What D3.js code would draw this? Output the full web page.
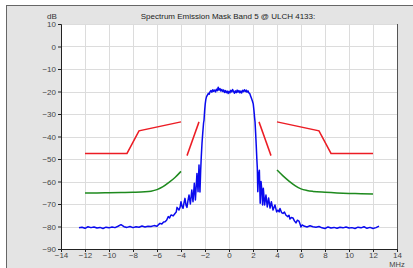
<!DOCTYPE html>
<html>
<head>
<meta charset="utf-8">
<script src="https://cdn.jsdelivr.net/npm/d3@7"></script>
<style>
  body { margin: 0; background: #fff; }
  svg { display: block; font-family: "Liberation Sans", Arial, sans-serif; }
</style>
</head>
<body>
<div id="chart"></div>
<script>
// chart values
const xTicks = [-14, -12, -10, -8, -6, -4, -2, 0, 2, 4, 6, 8, 10, 12, 14];
const yTicks = [10, 0, -10, -20, -30, -40, -50, -60, -70, -80, -90];

// measured spectrum (MHz offset, dB)
const specFreq = [-12.5,-12.25,-12,-11.75,-11.5,-11.25,-11,-10.75,-10.5,-10.25,-10,-9.75,-9.5,-9.25,-9,-8.75,-8.5,-8.25,-8,-7.75,-7.5,-7.25,-7,-6.75,-6.5,-6.25,-6,
  -5.9,-5.75,-5.6,-5.45,-5.33,-5.2,-5.06,-4.95,-4.85,-4.78,-4.65,-4.5,-4.4,-4.33,-4.17,-4.08,-4,-3.92,-3.83,-3.75,-3.67,-3.58,-3.5,-3.42,-3.33,-3.22,-3.1,-3,-2.89,-2.8,-2.67,-2.58,-2.5,-2.42,-2.36,-2.31,-2.25,-2.19,-2.12,-2.08,-2.03,-1.98,-1.93,-1.87,-1.8,-1.72,-1.65,-1.58,-1.5,-1.43,-1.35,-1.28,-1.2,-1.12,-1.05,-0.97,-0.9,-0.83,-0.75,-0.68,-0.6,-0.52,-0.45,-0.37,-0.3,-0.22,-0.15,-0.07,0,
  0.08,0.15,0.23,0.3,0.38,0.45,0.53,0.6,0.68,0.75,0.83,0.9,0.98,1.05,1.13,1.2,1.28,1.35,1.43,1.5,1.58,1.65,1.72,1.8,1.87,1.95,2.02,2.08,2.13,2.17,2.22,2.27,2.32,2.36,2.4,2.46,2.53,2.6,2.67,2.74,2.8,2.86,2.97,3.08,3.19,3.3,3.42,3.53,3.67,3.83,3.97,4.08,4.18,4.25,4.38,4.5,4.62,4.75,4.9,5,5.08,5.2,5.33,5.45,5.58,5.7,5.83,5.92,6,6.1,
  6.25,6.5,6.75,7,7.25,7.5,7.75,8,8.25,8.5,8.75,9,9.25,9.5,9.75,10,10.25,10.5,10.75,11,11.25,11.5,11.75,12,12.25,12.5];
const specLevel = [-80.6,-80.3,-80.8,-80.1,-80.5,-80.2,-80.7,-80.4,-80.9,-80.3,-80.6,-80.2,-80.5,-79.9,-79.2,-80.1,-80.4,-80.0,-80.5,-80.1,-80.3,-79.8,-80.2,-79.9,-80.0,-79.6,-79.9,
  -79.3,-78.6,-78.9,-78.0,-77.9,-77.2,-75.6,-76.2,-75.0,-74.9,-75.3,-74.2,-73.6,-71.5,-72.7,-71.5,-69.0,-71.0,-71.9,-69.5,-67.5,-70.5,-71.5,-68.5,-66.0,-70.0,-63.8,-69.0,-60.8,-68.2,-56.4,-64.5,-52.7,-64.7,-55.0,-49.0,-43.0,-38.6,-34.0,-32.7,-28.5,-25.5,-23.5,-22.3,-21.6,-20.8,-21.2,-20.1,-19.6,-20.3,-19.2,-19.9,-19.4,-20.2,-19.0,-19.6,-18.1,-19.4,-18.7,-19.8,-19.1,-20.0,-19.3,-20.4,-19.6,-20.5,-19.8,-20.9,-19.9,
  -20.6,-19.5,-20.2,-19.1,-20.0,-20.8,-19.7,-20.5,-19.4,-20.3,-19.6,-20.6,-19.8,-20.7,-19.5,-20.1,-19.2,-20.0,-19.4,-20.3,-19.7,-20.6,-20.8,-22.0,-23.0,-24.2,-25.5,-28.5,-31.5,-33.5,-38.5,-44.0,-50.0,-54.0,-64.5,-57.0,-55.0,-69.7,-60.0,-64.0,-70.4,-63.0,-70.4,-66.0,-71.3,-67.3,-71.8,-69.0,-72.7,-70.4,-73.5,-72.7,-73.5,-72.0,-73.8,-74.2,-73.6,-75.0,-75.6,-75.0,-76.7,-76.0,-76.2,-77.5,-78.4,-77.2,-77.6,-78.9,-80.2,-79.3,
  -79.8,-80.2,-79.7,-80.1,-80.3,-80.0,-80.6,-80.9,-80.2,-80.7,-80.4,-80.8,-80.3,-80.6,-80.2,-80.7,-80.5,-80.9,-80.3,-80.6,-80.1,-80.8,-80.4,-80.9,-80.5,-79.8];

// emission mask limits (red)
const maskOuterLeftF = [-12, -8.5, -7.5, -4];
const maskOuterLeftL = [-47.5, -47.5, -37.5, -33.5];
const maskInnerLeftF = [-3.5, -2.5];
const maskInnerLeftL = [-48.5, -33.5];
const maskInnerRightF = [2.5, 3.5];
const maskInnerRightL = [-33.5, -48.5];
const maskOuterRightF = [4, 7.5, 8.5, 12];
const maskOuterRightL = [-33.5, -37.5, -47.5, -47.5];

// margin curves (green)
const marginLeftF = [-12, -11, -10, -9, -8, -7, -6.5, -6, -5.5, -5, -4.5, -4];
const marginLeftL = [-65.1, -65.1, -65.0, -64.9, -64.8, -64.6, -64.3, -63.6, -62.3, -60.4, -58.2, -55.5];
const marginRightF = [4, 4.5, 5, 5.5, 6, 6.5, 7, 8, 9, 10, 11, 12];
const marginRightL = [-54.9, -57.5, -59.8, -61.8, -63.3, -64.0, -64.4, -64.8, -65.1, -65.3, -65.4, -65.6];

const W = 413, H = 268;
const margin = {top: 24, right: 16, bottom: 19, left: 61},
    width = W - margin.left - margin.right,
    height = H - margin.top - margin.bottom;

const svg = d3.select("#chart")
  .append("svg")
    .attr("width", W)
    .attr("height", H);

// outer panel
svg.append("rect")
  .attr("x", 6.5).attr("y", 5.5)
  .attr("width", W + 10).attr("height", H + 10)
  .attr("fill", "#e4e4e4")
  .attr("stroke", "#666");

const g = svg.append("g")
  .attr("transform", `translate(${margin.left},${margin.top})`);

const x = d3.scaleLinear().domain([-14, 14]).range([0, width]);
const y = d3.scaleLinear().domain([-90, 10]).range([height, 0]);

g.append("rect")
  .attr("width", width).attr("height", height)
  .attr("fill", "#fff");

// grid
g.append("g").selectAll("line")
  .data(xTicks.slice(1, -1))
  .join("line")
    .attr("x1", d => Math.round(x(d)) + 0.5).attr("x2", d => Math.round(x(d)) + 0.5)
    .attr("y1", 0).attr("y2", height)
    .attr("stroke", "#dcdcdc");
g.append("g").selectAll("line")
  .data(yTicks.slice(0, -1))
  .join("line")
    .attr("y1", d => Math.round(y(d)) + 0.5).attr("y2", d => Math.round(y(d)) + 0.5)
    .attr("x1", 0).attr("x2", width)
    .attr("stroke", "#dcdcdc");

// axes
const yAxis = g.append("g")
  .call(d3.axisLeft(y).tickValues(yTicks).tickSize(3).tickPadding(2));
const xAxis = g.append("g")
  .attr("transform", `translate(0,${height})`)
  .call(d3.axisBottom(x).tickValues(xTicks).tickSize(3).tickPadding(0));
[xAxis, yAxis].forEach(a => {
  a.select(".domain").attr("stroke", "#222");
  a.selectAll(".tick line").attr("stroke", "#222");
  a.selectAll("text").attr("font-size", 8).attr("fill", "#444")
    .attr("font-family", "'Liberation Sans', Arial, sans-serif");
});

// right frame of plot
g.append("line")
  .attr("x1", width + 0.5).attr("x2", width + 0.5)
  .attr("y1", 0).attr("y2", height)
  .attr("stroke", "#555");

const line = d3.line().x(d => x(d[0])).y(d => y(d[1]));
const smooth = d3.line().x(d => x(d[0])).y(d => y(d[1])).curve(d3.curveMonotoneX);
const zip = (f, l) => f.map((v, i) => [v, l[i]]);

[[maskOuterLeftF, maskOuterLeftL], [maskInnerLeftF, maskInnerLeftL],
 [maskInnerRightF, maskInnerRightL], [maskOuterRightF, maskOuterRightL]].forEach(([f, l]) => {
  g.append("path")
    .attr("d", line(zip(f, l)))
    .attr("fill", "none")
    .attr("stroke", "#ec1c24")
    .attr("stroke-width", 1.5);
});

[[marginLeftF, marginLeftL], [marginRightF, marginRightL]].forEach(([f, l]) => {
  g.append("path")
    .attr("d", smooth(zip(f, l)))
    .attr("fill", "none")
    .attr("stroke", "#1e8a1e")
    .attr("stroke-width", 1.5);
});

g.append("path")
  .attr("d", line(zip(specFreq, specLevel)))
  .attr("fill", "none")
  .attr("stroke", "#0a0aee")
  .attr("stroke-width", 1.5)
  .attr("stroke-linejoin", "round");

// labels
svg.append("text")
  .attr("x", 228).attr("y", 19)
  .attr("text-anchor", "middle")
  .attr("font-size", 8).attr("fill", "#222")
  .text("Spectrum Emission Mask Band 5 @ ULCH 4133:");
svg.append("text")
  .attr("x", 52).attr("y", 19)
  .attr("text-anchor", "middle")
  .attr("font-size", 8).attr("fill", "#333")
  .text("dB");
svg.append("text")
  .attr("x", margin.left + width).attr("y", 267)
  .attr("text-anchor", "middle")
  .attr("font-size", 7.5).attr("fill", "#444")
  .text("MHz");
</script>
</body>
</html>
